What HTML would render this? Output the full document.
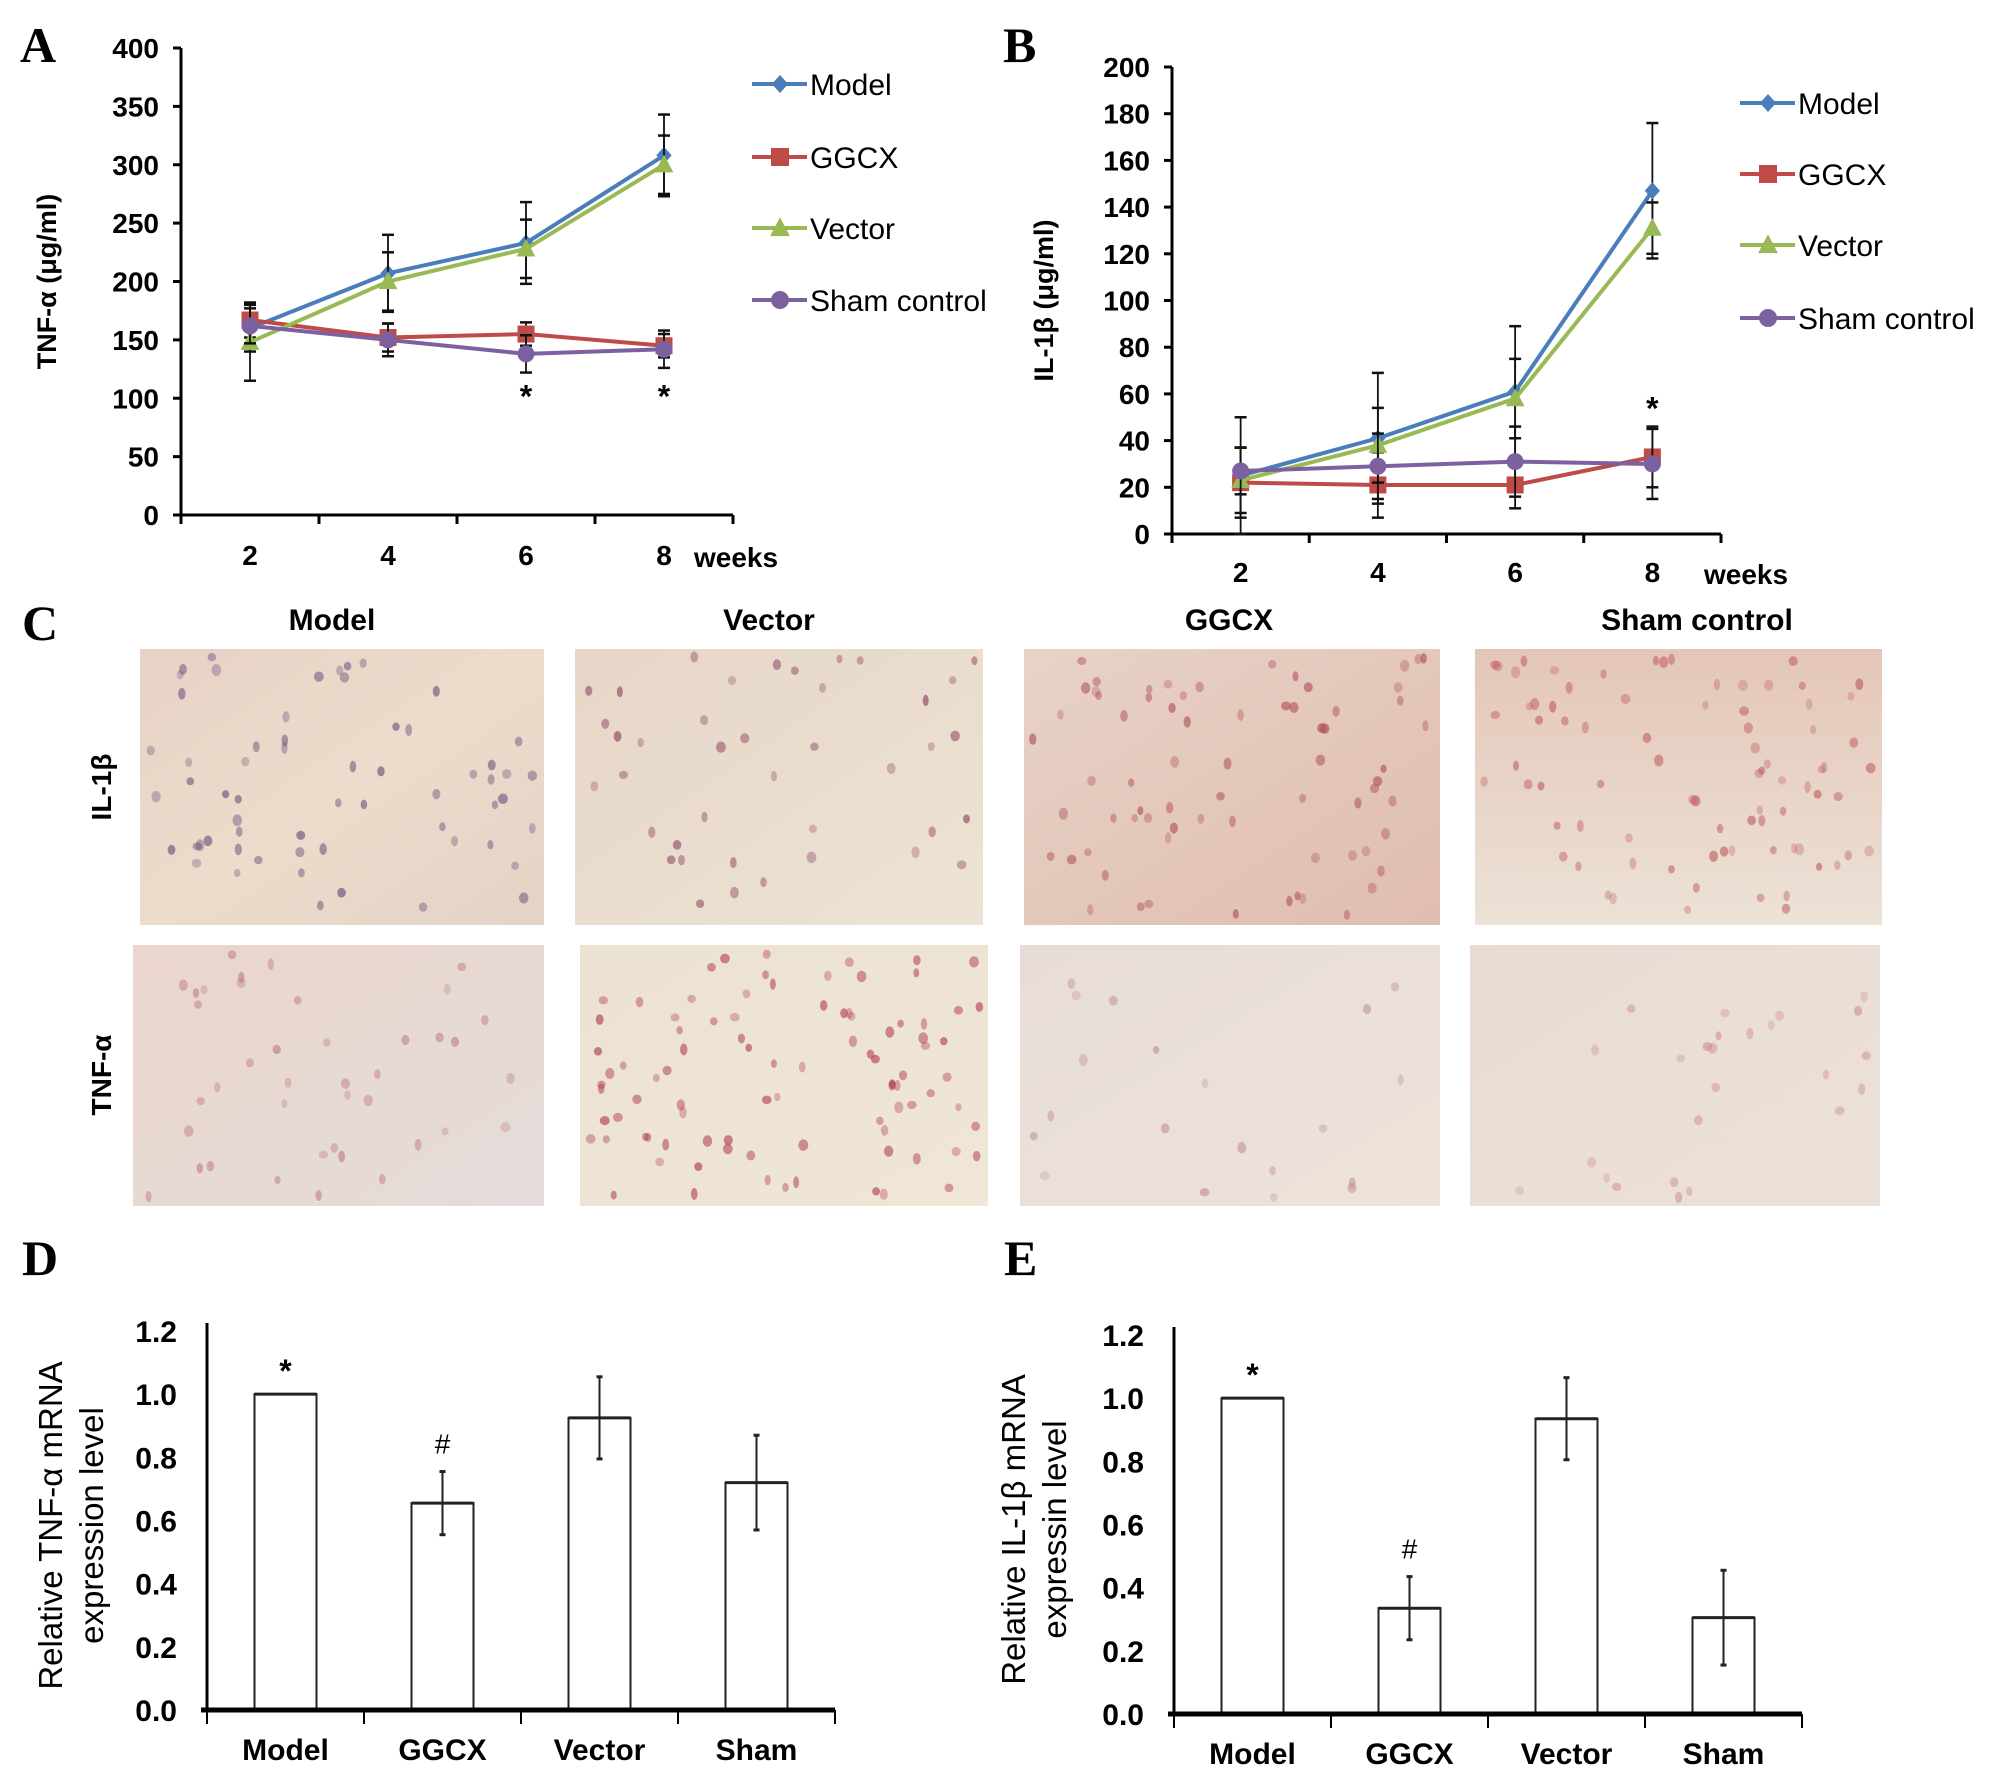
<!DOCTYPE html>
<html><head><meta charset="utf-8">
<style>
html,body{margin:0;padding:0;background:#fff;}
svg{display:block;font-family:"Liberation Sans",Arial,sans-serif;}
</style></head>
<body>
<svg id="fig" width="2008" height="1775" viewBox="0 0 2008 1775" xmlns="http://www.w3.org/2000/svg">
<defs>
<linearGradient id="g1" x1="0" y1="0" x2="1" y2="1"><stop offset="0" stop-color="#e6d2c6"/><stop offset="0.5" stop-color="#ecdccb"/><stop offset="1" stop-color="#e4d3c6"/></linearGradient>
<linearGradient id="g2" x1="0" y1="0" x2="1" y2="1"><stop offset="0" stop-color="#e6d6c8"/><stop offset="1" stop-color="#ede3d3"/></linearGradient>
<linearGradient id="g3" x1="0" y1="0" x2="1" y2="1"><stop offset="0" stop-color="#e8d2c6"/><stop offset="1" stop-color="#dfbdb0"/></linearGradient>
<linearGradient id="g4" x1="0" y1="0" x2="0" y2="1"><stop offset="0" stop-color="#e4c6b8"/><stop offset="1" stop-color="#ece2d6"/></linearGradient>
<linearGradient id="g5" x1="0" y1="0" x2="1" y2="1"><stop offset="0" stop-color="#ead6cc"/><stop offset="1" stop-color="#e4dcda"/></linearGradient>
<linearGradient id="g6" x1="0" y1="0" x2="1" y2="1"><stop offset="0" stop-color="#ece2d4"/><stop offset="1" stop-color="#f0e6d6"/></linearGradient>
<linearGradient id="g7" x1="0" y1="0" x2="1" y2="1"><stop offset="0" stop-color="#e7dcd8"/><stop offset="1" stop-color="#ede3da"/></linearGradient>
<linearGradient id="g8" x1="0" y1="0" x2="1" y2="1"><stop offset="0" stop-color="#eadbd2"/><stop offset="1" stop-color="#ebe1d9"/></linearGradient>
</defs>
<g id="root"></g>
</svg>
<script>
// ---------- Panel A data ----------
var weeks = ["2","4","6","8"];
var seriesNames = ["Model","GGCX","Vector","Sham control"];
var aModel  = [160, 207, 233, 308];
var aGGCX   = [167, 152, 155, 145];
var aVector = [148, 200, 228, 300];
var aSham   = [162, 150, 138, 142];
var aModelErr  = [20, 33, 35, 35];
var aGGCXErr   = [15, 12, 10, 10];
var aVectorErr = [33, 25, 25, 25];
var aShamErr   = [15, 14, 16, 16];
var aTicks = ["0","50","100","150","200","250","300","350","400"];
// ---------- Panel B data ----------
var bModel  = [25, 41, 61, 147];
var bGGCX   = [22, 21, 21, 33];
var bVector = [23, 38, 58, 131];
var bSham   = [27, 29, 31, 30];
var bModelErr  = [25, 28, 28, 29];
var bGGCXErr   = [15, 14, 10, 13];
var bVectorErr = [14, 16, 17, 11];
var bShamErr   = [10, 14, 15, 15];
var bTicks = ["0","20","40","60","80","100","120","140","160","180","200"];
// ---------- Panel D / E data ----------
var barCats = ["Model","GGCX","Vector","Sham"];
var dValues = [1.0, 0.655, 0.925, 0.72];
var dErrors = [0, 0.10, 0.13, 0.15];
var eValues = [1.0, 0.335, 0.935, 0.305];
var eErrors = [0, 0.10, 0.13, 0.15];
var barTicks = ["0.0","0.2","0.4","0.6","0.8","1.0","1.2"];

var NS = "http://www.w3.org/2000/svg";
var root = document.getElementById('root');
function mk(tag, attrs, parent, txt){
  var e = document.createElementNS(NS, tag);
  for (var k in attrs) e.setAttribute(k, attrs[k]);
  if (txt !== undefined) e.textContent = txt;
  (parent||root).appendChild(e);
  return e;
}
var colors = ["#4a7ebb","#be4b48","#98b954","#7d60a0"];

function lineChart(o){
  var g = mk('g', {});
  
  
  var yMax = parseFloat(o.ticks[o.ticks.length-1]);
  function ys(v){ return o.y0 - v/yMax*(o.y0-o.y1); }
  var step = (o.x1-o.x0)/weeks.length;
  function xs(i){ return o.x0 + step*(i+0.5); }
  var ax = mk('line',{x1:o.x0,y1:o.y1,x2:o.x0,y2:o.y0,stroke:'#000','stroke-width':3},g);
   
  var bx = mk('line',{x1:o.x0,y1:o.y0,x2:o.x1,y2:o.y0,stroke:'#000','stroke-width':3},g);
   
  o.ticks.forEach(function(t){
    var v=parseFloat(t), y=ys(v);
    mk('line',{x1:o.x0-8,y1:y,x2:o.x0,y2:y,stroke:'#000','stroke-width':3},g);
    var tl = mk('text',{x:o.x0-22,y:y+10,'text-anchor':'end','font-size':28,'font-weight':'bold'},g,t);
     
  });
  for (var i=0;i<=weeks.length;i++){
    var x=o.x0+step*i;
    mk('line',{x1:x,y1:o.y0,x2:x,y2:o.y0+9,stroke:'#000','stroke-width':3},g);
  }
  weeks.forEach(function(w,i){
    var tl = mk('text',{x:xs(i),y:o.y0+o.labOff,'text-anchor':'middle','font-size':28,'font-weight':'bold'},g,w);
     
  });
  var wk = mk('text',{x:o.weeksX,y:o.y0+o.labOff+2,'font-size':28,'font-weight':'bold'},g,'weeks');
   
  var yt = mk('text',{x:0,y:0,'text-anchor':'middle','font-size':27,'font-weight':'bold',transform:'translate('+o.titleX+','+((o.y0+o.y1)/2)+') rotate(-90)'},g,o.title);
   
  o.series.forEach(function(s,si){
    var c = colors[si];
    var sg = mk('g',{},g);
    
    
    s.v.forEach(function(v,i){
      var x=xs(i), e=s.e[i];
      mk('line',{x1:x,y1:ys(v-e),x2:x,y2:ys(v+e),stroke:'#111','stroke-width':1.8},sg);
      mk('line',{x1:x-6,y1:ys(v-e),x2:x+6,y2:ys(v-e),stroke:'#111','stroke-width':2.5},sg);
      mk('line',{x1:x-6,y1:ys(v+e),x2:x+6,y2:ys(v+e),stroke:'#111','stroke-width':2.5},sg);
    });
    var pts = s.v.map(function(v,i){return xs(i)+','+ys(v);}).join(' ');
    var pl = mk('polyline',{points:pts,fill:'none',stroke:c,'stroke-width':4},sg);
     
    s.v.forEach(function(v,i){
      var m = marker(si, xs(i), ys(v), sg, 0.85);
      
      
    });
  });
  o.stars.forEach(function(st){
    var t = mk('text',{x:xs(st.i),y:ys(st.v),'text-anchor':'middle','font-size':32,'font-weight':'bold'},g,'*');
     
  });
  seriesNames.forEach(function(n,si){
    var y=o.legY[si];
    var lg = mk('g',{},g);
     
    mk('line',{x1:o.legX,y1:y,x2:o.legX+55,y2:y,stroke:colors[si],'stroke-width':4},lg);
    marker(si,o.legX+28,y,lg,0.9);
    mk('text',{x:o.legX+58,y:y+11,'font-size':30},lg,n);
  });
}
function marker(si,x,y,p,s){
  var c=colors[si];
  if(si===0) return mk('polygon',{points:(x)+','+(y-10*s)+' '+(x+9*s)+','+y+' '+x+','+(y+10*s)+' '+(x-9*s)+','+y,fill:c},p);
  if(si===1) return mk('rect',{x:x-10*s,y:y-10*s,width:20*s,height:20*s,fill:c},p);
  if(si===2) return mk('polygon',{points:x+','+(y-12*s)+' '+(x+11*s)+','+(y+9*s)+' '+(x-11*s)+','+(y+9*s),fill:c},p);
  return mk('circle',{cx:x,cy:y,r:10*s,fill:c},p);
}

lineChart({name:'chart-a-tnf-alpha',x0:181,x1:733,y0:515,y1:48,ticks:aTicks,title:'TNF-α (μg/ml)',titleX:56,weeksX:694,labOff:50,
  series:[{v:aModel,e:aModelErr},{v:aGGCX,e:aGGCXErr},{v:aVector,e:aVectorErr},{v:aSham,e:aShamErr}],
  stars:[{i:2,v:92},{i:3,v:92}],legX:752,legY:[84,157,228,300]});
lineChart({name:'chart-b-il-1beta',x0:1172,x1:1721,y0:534,y1:67,ticks:bTicks,title:'IL-1β (μg/ml)',titleX:1053,weeksX:1704,labOff:48,
  series:[{v:bModel,e:bModelErr},{v:bGGCX,e:bGGCXErr},{v:bVector,e:bVectorErr},{v:bSham,e:bShamErr}],
  stars:[{i:3,v:49}],legX:1740,legY:[103,174,245,318]});

function barChart(o){
  var g = mk('g',{});
   
  var yMax = parseFloat(barTicks[barTicks.length-1]);
  function ys(v){ return o.y0 - v/yMax*(o.y0-o.y1); }
  var step=(o.x1-o.x0)/barCats.length;
  function xs(i){ return o.x0+step*(i+0.5); }
  var bw = 62;
  o.values.forEach(function(v,i){
    var b = mk('rect',{x:xs(i)-bw/2,y:ys(v),width:bw,height:o.y0-ys(v),fill:'#fff',stroke:'#222','stroke-width':2},g);
     
    mk('line',{x1:xs(i)-bw/2,y1:ys(v),x2:xs(i)+bw/2,y2:ys(v),stroke:'#222','stroke-width':3},g);
    var e=o.errors[i];
    if(e>0){
      var eb=mk('line',{x1:xs(i),y1:ys(v-e),x2:xs(i),y2:ys(v+e),stroke:'#222','stroke-width':2},g);
       
      mk('line',{x1:xs(i)-3,y1:ys(v-e),x2:xs(i)+3,y2:ys(v-e),stroke:'#222','stroke-width':3},g);
      mk('line',{x1:xs(i)-3,y1:ys(v+e),x2:xs(i)+3,y2:ys(v+e),stroke:'#222','stroke-width':3},g);
    }
    var cl = mk('text',{x:xs(i),y:o.y0+50,'text-anchor':'middle','font-size':30,'font-weight':'bold'},g,barCats[i]);
     
  });
  var ya = mk('line',{x1:o.x0,y1:o.y1-8,x2:o.x0,y2:o.y0,stroke:'#000','stroke-width':3},g);
   
  var xa = mk('line',{x1:o.x0-6,y1:o.y0,x2:o.x1,y2:o.y0,stroke:'#000','stroke-width':5},g);
   
  for(var i=0;i<=barCats.length;i++){
    var x=o.x0+step*i;
    mk('line',{x1:x,y1:o.y0,x2:x,y2:o.y0+14,stroke:'#000','stroke-width':2},g);
  }
  barTicks.forEach(function(t){
    var y=ys(parseFloat(t));
    var tl=mk('text',{x:o.x0-30,y:y+11,'text-anchor':'end','font-size':30,'font-weight':'bold'},g,t);
     
  });
  var cy=(o.y0+o.y1)/2+5;
  var t1=mk('text',{x:0,y:0,'text-anchor':'middle','font-size':33,transform:'translate('+o.tx1+','+cy+') rotate(-90)'},g,o.title1);
   
  var t2=mk('text',{x:0,y:0,'text-anchor':'middle','font-size':33,transform:'translate('+o.tx2+','+cy+') rotate(-90)'},g,o.title2);
   
  var s=mk('text',{x:xs(0),y:ys(o.values[0])-12,'text-anchor':'middle','font-size':32,'font-weight':'bold'},g,'*');
   
  var h=mk('text',{x:xs(1),y:ys(o.values[1]+o.errors[1])-18,'text-anchor':'middle','font-size':28},g,'#');
   
}
barChart({name:'chart-d-tnf-mrna',x0:207,x1:835,y0:1710,y1:1331,values:dValues,errors:dErrors,title1:'Relative TNF-α mRNA',title2:'expression level',tx1:62,tx2:103});
barChart({name:'chart-e-il1b-mrna',x0:1174,x1:1802,y0:1714,y1:1335,values:eValues,errors:eErrors,title1:'Relative IL-1β mRNA',title2:'expressin level',tx1:1025,tx2:1066});

[['A',20,62],['B',1003,62],['C',22,640],['D',22,1275],['E',1004,1275]].forEach(function(p){
  var t=mk('text',{x:p[1],y:p[2],'font-family':'Liberation Serif, serif','font-size':50,'font-weight':'bold'},root,p[0]);
   
});

// ---------- Panel C micrographs (decorative) ----------
var photoCols = ["Model","Vector","GGCX","Sham control"];
var colCenters=[332,769,1229,1697];
photoCols.forEach(function(n,i){
  var t=mk('text',{x:colCenters[i],y:630,'text-anchor':'middle','font-size':30,'font-weight':'bold'},root,n);
   
});
var r1=mk('text',{x:0,y:0,'text-anchor':'middle','font-size':28,'font-weight':'bold',transform:'translate(111,787) rotate(-90)'},root,'IL-1β');
 
var r2=mk('text',{x:0,y:0,'text-anchor':'middle','font-size':28,'font-weight':'bold',transform:'translate(111,1075) rotate(-90)'},root,'TNF-α');
 
var boxes=[[140,649,404,276,'g1','#6a4a7a',60],[575,649,408,276,'g2','#8a4060',40],[1024,649,416,276,'g3','#b0505a',70],[1475,649,407,276,'g4','#c06060',80],
           [133,945,411,261,'g5','#c08080',40],[580,945,408,261,'g6','#b03a4a',90],[1020,945,420,261,'g7','#c09090',20],[1470,945,410,261,'g8','#d09090',25]];
var seed=7;
function rnd(){ seed=(seed*9301+49297)%233280; return seed/233280; }
boxes.forEach(function(b,k){
  var pg=mk('g',{});
  
  
  mk('rect',{x:b[0],y:b[1],width:b[2],height:b[3],fill:'url(#'+b[4]+')'},pg);
  for(var j=0;j<b[6];j++){
    mk('ellipse',{cx:b[0]+8+rnd()*(b[2]-16),cy:b[1]+8+rnd()*(b[3]-16),rx:3+rnd()*2,ry:4+rnd()*2,fill:b[5],opacity:0.3+rnd()*0.35},pg);
  }
});
</script>
</body></html>
